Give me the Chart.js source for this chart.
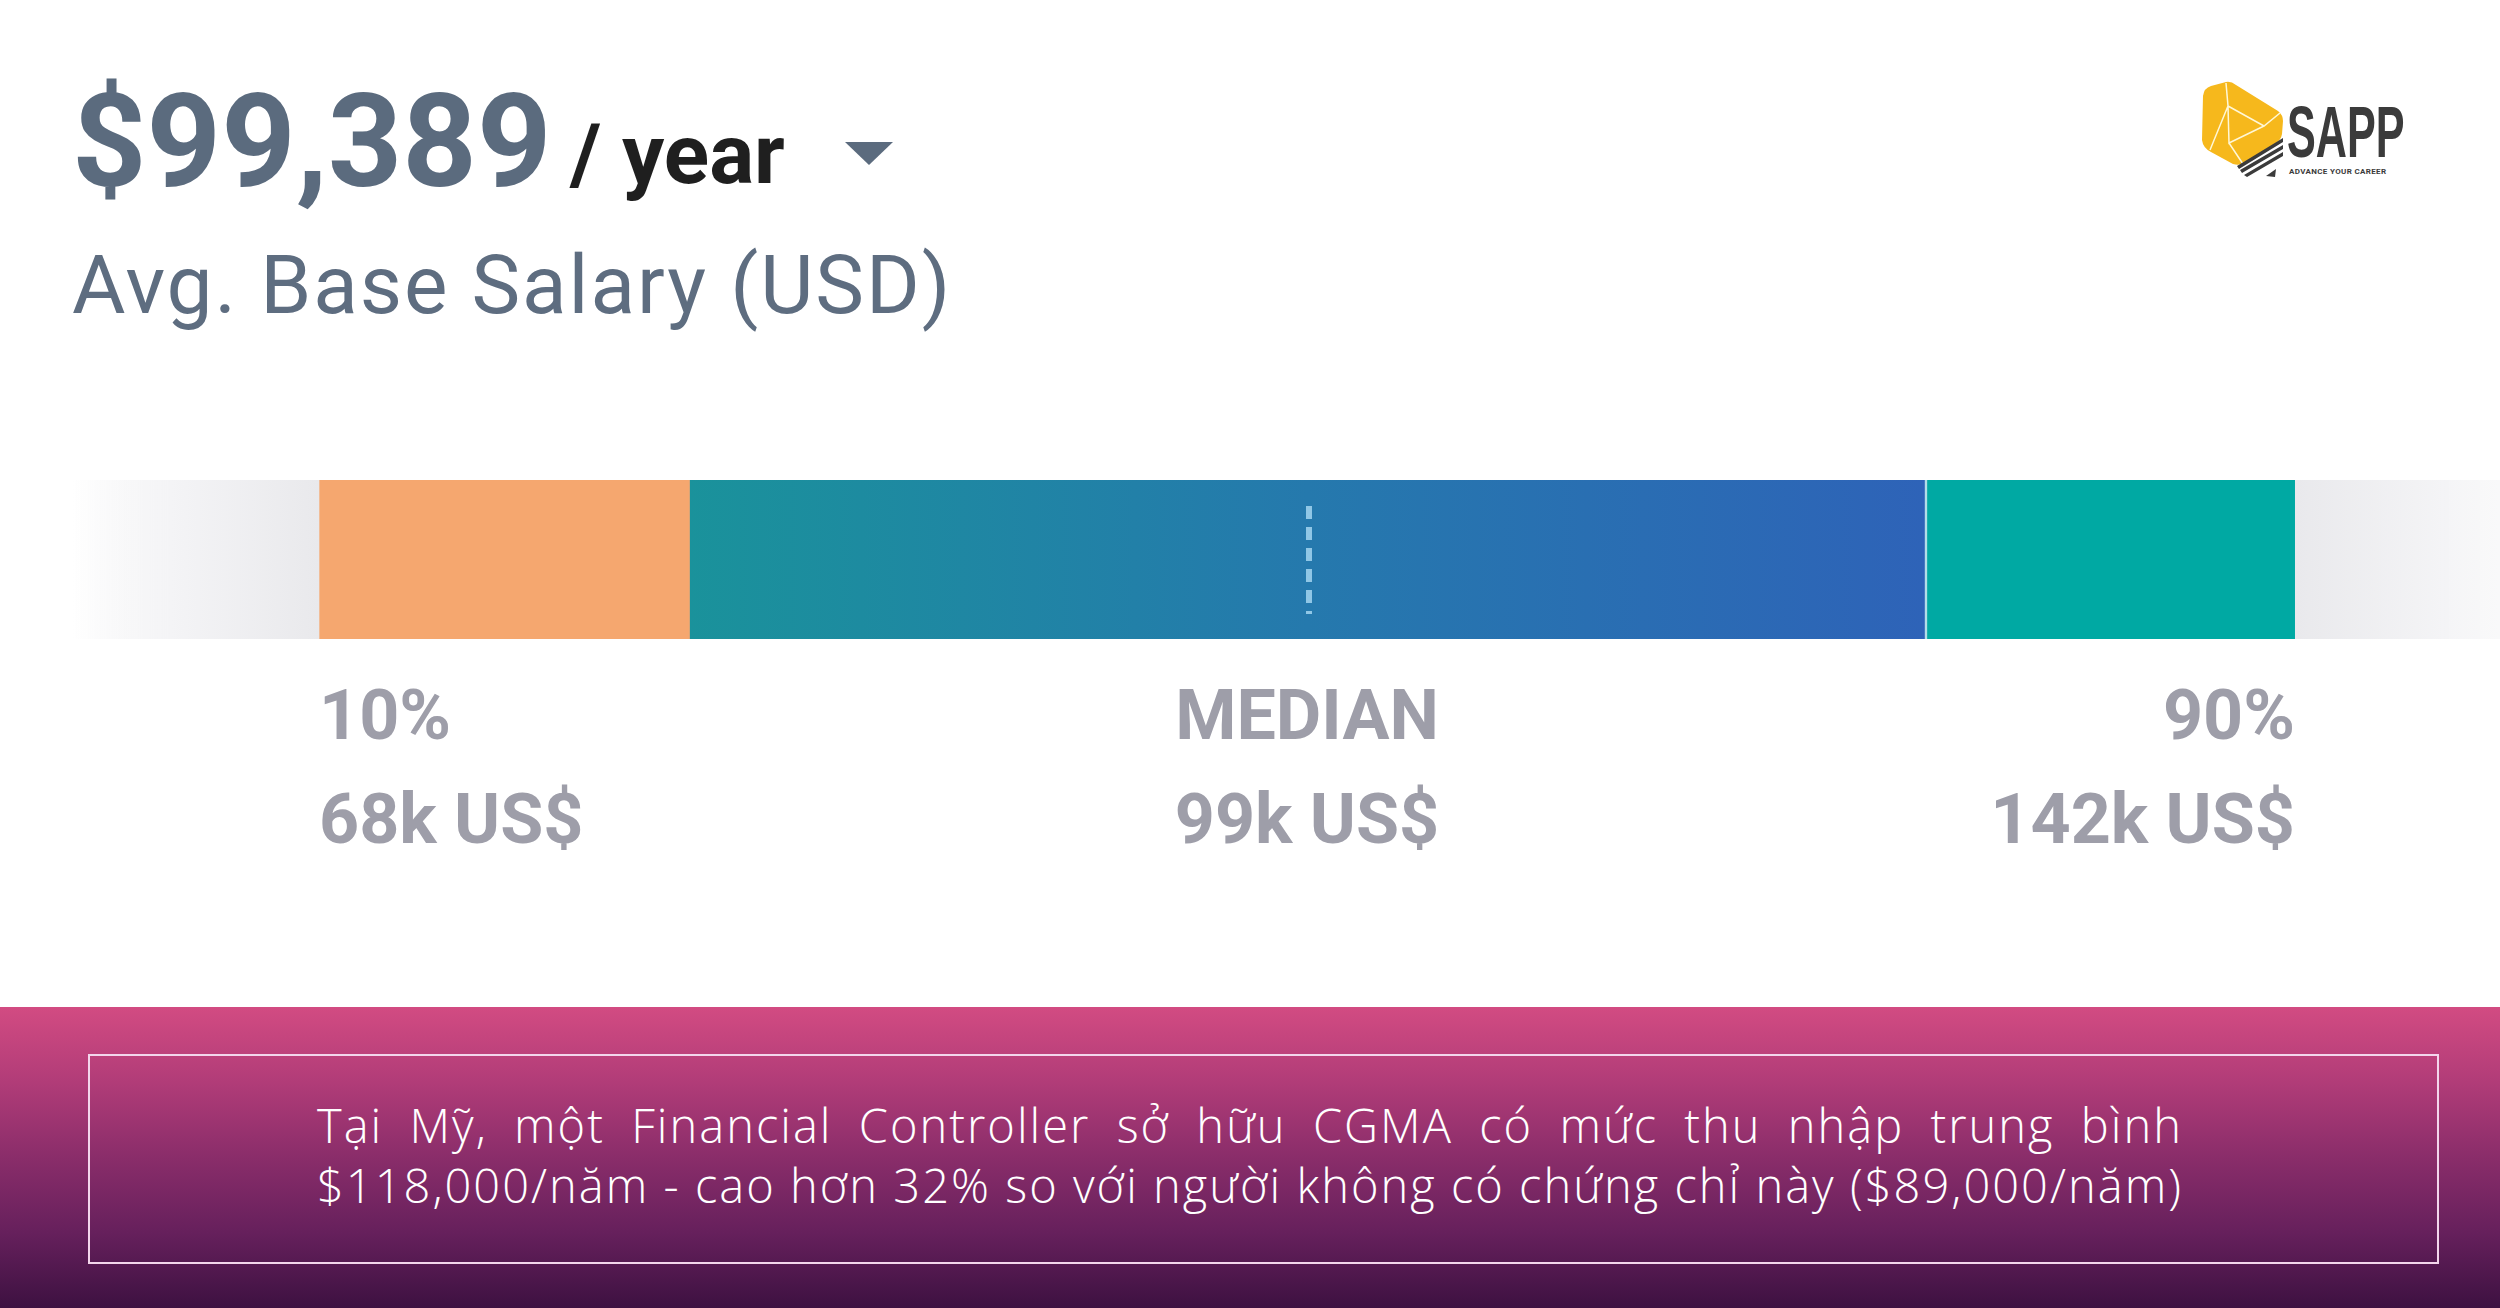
<!DOCTYPE html>
<html>
<head>
<meta charset="utf-8">
<script src="https://cdn.jsdelivr.net/npm/chart.js@4.4.1/dist/chart.umd.min.js"></script>
<style>
  html, body { margin: 0; padding: 0; }
  body { width: 2500px; height: 1308px; background: #fff; position: relative; overflow: hidden; font-family: Roboto, sans-serif; }
  .abs { position: absolute; line-height: 1; white-space: nowrap; }
  #amount { left: 72px; top: 77px; font-size: 130px; font-weight: 700; color: #5b6b7e; }
  #per { left: 570px; top: 113px; font-size: 84px; font-weight: 700; color: #1f1f1f; }
  #caret { left: 845px; top: 142px; width: 0; height: 0; border-left: 24px solid transparent; border-right: 24px solid transparent; border-top: 23px solid #5b6b7e; }
  #sub { left: 72px; top: 244px; font-size: 82px; font-weight: 400; letter-spacing: 1.9px; color: #5e6d80; }
  #chartBox { position: absolute; left: 0; top: 480px; width: 2500px; height: 480px; }
  #logo { position: absolute; left: 2195px; top: 75px; width: 100px; height: 105px; }
  #sapp { left: 2287px; top: 96px; font-family: "Liberation Sans Narrow", "Liberation Sans", sans-serif; font-weight: 700; font-size: 72px; color: #3b3b3b; transform: scaleX(0.6); transform-origin: 0 0; }
  #tag { left: 2289px; top: 168px; font-family: Roboto, sans-serif; font-weight: 700; font-size: 8px; letter-spacing: 0.35px; color: #3b3b3b; }
  #banner { position: absolute; left: 0; top: 1007px; width: 2500px; height: 301px; background: linear-gradient(to bottom, #d24b82 0%, #b13c78 25%, #8a2d6a 50%, #66205c 75%, #3d1141 100%); }
  #frame { position: absolute; left: 88px; top: 1054px; width: 2347px; height: 206px; border: 2px solid #f3d6ec; }
  #note { position: absolute; left: 317px; top: 1095px; width: 1866px; font-family: "Open Sans", Lato, sans-serif; font-weight: 300; font-size: 47px; line-height: 60px; color: #fff; }
  #note div { text-align: justify; text-align-last: justify; white-space: nowrap; }
</style>
</head>
<body>
<div class="abs" id="amount">$99,389</div>
<div class="abs" id="per">/ year</div>
<div class="abs" id="caret"></div>
<div class="abs" id="sub">Avg. Base Salary (USD)</div>

<svg id="logo" viewBox="2195 75 100 105" xmlns="http://www.w3.org/2000/svg">
  <path d="M2203 96 Q2204 88 2211 86 L2226 82 Q2231 81 2236 85 L2278 111 Q2283 115 2283 121 L2282 134 Q2281 140 2276 143 L2244 163 Q2239 166 2233 164 L2211 152 Q2203 148 2202 140 Z" fill="#f6b81c"/>
  <path d="M2226 83 L2228 106 L2210 150 M2228 106 L2264 126 L2280 113 M2264 126 L2229 143 L2228 106 M2229 143 L2243 164" stroke="#fff7d6" stroke-width="1.5" fill="none"/>
  <path d="M2237 166 L2283 138 L2283 142 L2239 169 Z M2240 170 L2283 145 L2283 149 L2242 173 Z M2244 175 L2283 152 L2283 156 L2247 177 Z" fill="#3b3b3b"/>
  <path d="M2266 176 L2276 169 L2275 177 Z" fill="#3b3b3b"/>
</svg>
<div class="abs" id="sapp">SAPP</div>
<div class="abs" id="tag">ADVANCE YOUR CAREER</div>

<div id="chartBox"><canvas id="salaryChart"></canvas></div>

<div id="banner"></div>
<div id="frame"></div>
<div id="note">
  <div>Tại Mỹ, một Financial Controller sở hữu CGMA có mức thu nhập trung bình</div>
  <div id="line2"><span>$118,000/năm - cao hơn 32% so với người không có chứng chỉ này ($89,000/năm)</span></div>
</div>

<script>
// salary distribution bands, in percentiles
const bandLabels = ['0-10%', '10-25%', '25-75%', '75-90%', '90-100%'];
const bandStart = [0, 10, 25, 75, 90];
const bandEnd = [10, 25, 75, 90, 100];

// labels under the bar
const markerPct = [10, 50, 90];
const markerNames = ['10%', 'MEDIAN', '90%'];
const markerSalary = ['68k US$', '99k US$', '142k US$'];
const medianPct = 50;

// second banner line is not stretched in the picture: widen it with letter spacing
function fitLine2() {
    const note = document.getElementById('note');
    const line = document.getElementById('line2');
    const span = line.querySelector('span');
    note.style.letterSpacing = '0px';
    line.style.textAlign = 'left';
    line.style.textAlignLast = 'left';
    const w = span.getBoundingClientRect().width;
    line.style.textAlign = '';
    line.style.textAlignLast = '';
    const n = span.textContent.length;
    const extra = (1866 - w) / n;
    if (extra > 0) note.style.letterSpacing = extra.toFixed(2) + 'px';
}
fitLine2();
document.fonts.ready.then(fitLine2);

function bandColor(i) {
    return function (ctx) {
        const chart = ctx.chart;
        if (!chart.chartArea) return '#ccc';
        const x = chart.scales.x;
        const c = chart.ctx;
        if (i == 0) {
            let g = c.createLinearGradient(x.getPixelForValue(0), 0, x.getPixelForValue(10), 0);
            g.addColorStop(0, 'rgba(240,240,242,0)');
            g.addColorStop(0.4, '#f4f4f6');
            g.addColorStop(1, '#e9e9ec');
            return g;
        }
        if (i == 1) return '#f5a76f';
        if (i == 2) {
            let g = c.createLinearGradient(x.getPixelForValue(25), 0, x.getPixelForValue(75), 0);
            g.addColorStop(0, '#1a929b');
            g.addColorStop(0.5, '#2579ad');
            g.addColorStop(1, '#2e63b8');
            return g;
        }
        if (i == 3) return '#00a9a3';
        let g = c.createLinearGradient(x.getPixelForValue(90), 0, x.getPixelForValue(100), 0);
        g.addColorStop(0, '#e9e9ec');
        g.addColorStop(0.6, '#f4f4f6');
        g.addColorStop(1, 'rgba(250,250,250,0.6)');
        return g;
    };
}

const medianLine = {
    id: 'medianLine',
    afterDatasetsDraw(chart) {
        const c = chart.ctx;
        const x = chart.scales.x.getPixelForValue(medianPct);
        const a = chart.chartArea;
        c.save();
        c.strokeStyle = '#90c7e6';
        c.lineWidth = 6;
        c.setLineDash([13, 8]);
        c.beginPath();
        c.moveTo(x + 2, a.top + 26);
        c.lineTo(x + 2, a.bottom - 25);
        c.stroke();
        c.restore();
    }
};

let datasets = [];
for (let i = 0; i < bandStart.length; i++) {
    datasets.push({
        label: bandLabels[i],
        data: [[bandStart[i], bandEnd[i]]],
        backgroundColor: bandColor(i),
        borderColor: '#b3dce8',
        borderWidth: i == 3 ? {left: 3} : 0,
        borderSkipped: false,
        barPercentage: 1,
        categoryPercentage: 1
    });
}

const config = {
    type: 'bar',
    data: {
        labels: ['Salary'],
        datasets: datasets
    },
    options: {
        indexAxis: 'y',
        responsive: true,
        maintainAspectRatio: false,
        animation: false,
        layout: { padding: { left: 72, right: 0, top: 0, bottom: 0 } },
        plugins: { legend: { display: false }, tooltip: { enabled: false } },
        scales: {
            y: { display: false, stacked: true },
            x: {
                min: 0,
                max: 98.3,
                grid: { display: false, drawTicks: false },
                border: { display: false },
                afterBuildTicks: (s) => { s.ticks = markerPct.map(v => ({ value: v })); },
                afterFit: (s) => { s.height = 321; },
                ticks: {
                    autoSkip: false,
                    maxRotation: 0,
                    align: 'inner',
                    padding: 30,
                    color: '#9e9ea9',
                    font: { family: 'Roboto', weight: 'bold', size: 70, lineHeight: 104 / 70 },
                    callback: (value, index) => [markerNames[index], markerSalary[index]]
                }
            }
        }
    },
    plugins: [medianLine]
};

let ctx = document.getElementById('salaryChart').getContext('2d');
new Chart(ctx, config);
</script>
</body>
</html>
